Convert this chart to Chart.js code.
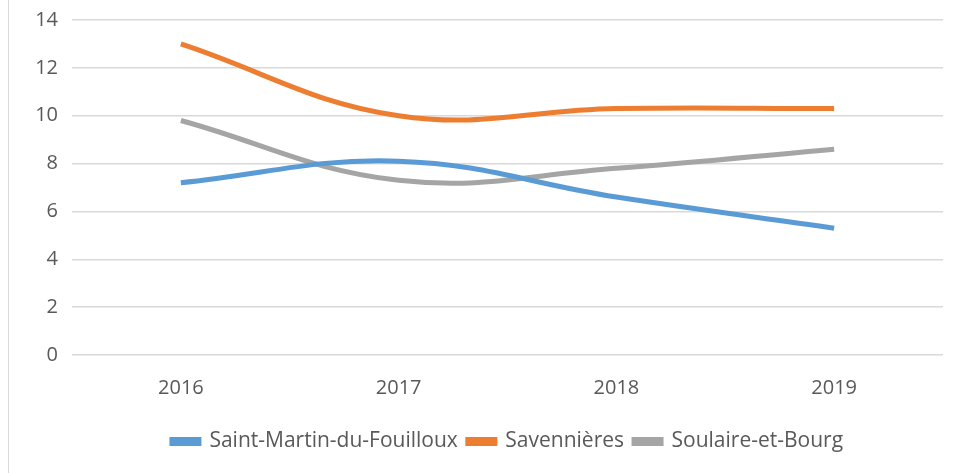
<!DOCTYPE html>
<html>
<head>
<meta charset="utf-8">
<script src="https://cdn.jsdelivr.net/npm/chart.js@4"></script>
<style>
  html, body { margin: 0; padding: 0; background: #fff; }
  #wrap { position: relative; width: 958px; height: 473px; }
  #edge { position: absolute; left: 8px; top: 0; width: 1px; height: 473px; background: #d9d9d9; }
</style>
</head>
<body>
<div id="wrap">
  <div id="edge"></div>
  <canvas id="myChart" width="958" height="473"></canvas>
</div>
<script>
// données
const years = ['2016', '2017', '2018', '2019'];
const saintMartin = [7.2, 8.1, 6.6, 5.3];
const savennieres = [13.0, 10.0, 10.3, 10.3];
const soulaire = [9.8, 7.3, 7.8, 8.6];
const yTicks = [0, 2, 4, 6, 8, 10, 12, 14];

document.addEventListener('DOMContentLoaded', function () {
  const ctx = document.getElementById('myChart').getContext('2d');
  Chart.defaults.font.family = "'Open Sans', 'Noto Sans', sans-serif";
  Chart.defaults.color = '#595959';

  new Chart(ctx, {
    type: 'line',
    data: {
      labels: years,
      datasets: [
        { label: 'Saint-Martin-du-Fouilloux', data: saintMartin, borderColor: '#5B9BD5', backgroundColor: '#5B9BD5' },
        { label: 'Savennières', data: savennieres, borderColor: '#ED7D31', backgroundColor: '#ED7D31' },
        { label: 'Soulaire-et-Bourg', data: soulaire, borderColor: '#A5A5A5', backgroundColor: '#A5A5A5' }
      ]
    },
    options: {
      responsive: false,
      animation: false,
      layout: { autoPadding: false, padding: { top: 20, right: 15, left: 0, bottom: 11 } },
      elements: {
        line: { borderWidth: 5, tension: 0.4, borderCapStyle: 'butt' },
        point: { radius: 0, hoverRadius: 0 }
      },
      scales: {
        x: {
          offset: true,
          grid: { display: false, drawTicks: false },
          border: { display: false },
          ticks: { font: { size: 20 }, padding: 21 }
        },
        y: {
          min: 0,
          max: 14,
          afterBuildTicks: function (axis) {
            axis.ticks = yTicks.map(v => ({ value: v }));
          },
          afterFit: function (axis) {
            axis.width = 72;
            axis.paddingTop = 0;
          },
          grid: { color: '#d9d9d9', lineWidth: 1.5, drawTicks: false },
          border: { display: false },
          ticks: { font: { size: 20 }, padding: 14 }
        }
      },
      plugins: {
        legend: {
          position: 'bottom',
          fullSize: false,
          labels: {
            boxWidth: 27,
            boxHeight: 4,
            padding: 10,
            font: { size: 21 },
            color: '#595959'
          }
        },
        tooltip: { enabled: false }
      }
    }
  });
});
</script>
</body>
</html>
